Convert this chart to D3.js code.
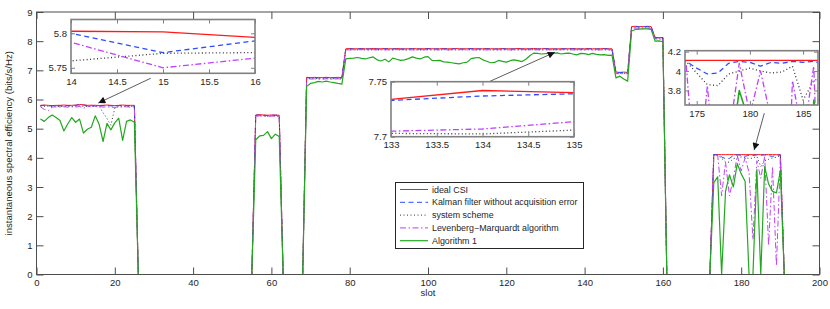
<!DOCTYPE html>
<html>
<head>
<meta charset="utf-8">
<script src="https://cdn.jsdelivr.net/npm/d3@7"></script>
<style>
body { margin: 0; background: #fff; }
svg text { font-family: "Liberation Sans", Arial, sans-serif; fill: #262626; }
</style>
</head>
<body>
<svg id="chart" width="830" height="309"></svg>
<script>
// slot index 1..200
const slots = d3.range(1, 201);

const idealCSI = [
  5.80,5.81,5.80,5.79,5.80,5.80,5.81,5.80,5.80,5.81,5.83,5.82,5.80,5.803,5.802,5.794,5.80,5.81,5.80,5.79,5.80,5.81,5.80,5.80,5.80,
  0,0,0,0,0,0,0,0,0,0, 0,0,0,0,0,0,0,0,0,0, 0,0,0,0,0,0,0,0,0,0,
  5.47,5.48,5.47,5.46,5.47,5.47,5.46,
  0,0,0,0,0,0,
  6.76,6.75,6.76,6.75,6.75,6.76,6.75,6.75,6.76,6.75,
  7.74,7.75,7.74,7.74,7.75,7.74,7.74,7.75,7.74,7.74,
  7.75,7.74,7.74,7.75,7.74,7.74,7.74,7.75,7.74,7.74,
  7.74,7.75,7.74,7.74,7.74,7.75,7.74,7.74,7.75,7.74,
  7.74,7.74,7.75,7.74,7.74,7.74,7.75,7.74,7.74,7.74,
  7.75,7.74,7.74,7.74,7.75,7.74,7.74,7.74,7.75,7.74,
  7.74,7.75,7.74,7.74,7.734,7.742,7.740,
  7.74,7.75,7.74,7.74,7.74,7.75,7.74,7.74,7.74,7.75,7.74,7.74,
  6.94,6.93,6.94,6.93,
  8.50,8.51,8.50,8.50,8.51,8.50,
  8.13,8.12,8.13,
  0,0,0,0,0,0,0,0,0,0,0,0,
  4.11,4.11,4.11,4.11,4.11,4.11,4.11,4.11,4.11,4.11,4.11,4.11,4.11,4.11,4.11,4.11,4.11,4.11,
  0,0,0,0,0,0,0,0,0,0
];

const kalman = [
  5.79,5.80,5.78,5.79,5.79,5.78,5.80,5.79,5.79,5.80,5.82,5.81,5.79,5.800,5.772,5.789,5.79,5.80,5.78,5.78,5.79,5.80,5.79,5.79,5.79,
  0,0,0,0,0,0,0,0,0,0, 0,0,0,0,0,0,0,0,0,0, 0,0,0,0,0,0,0,0,0,0,
  5.46,5.47,5.46,5.45,5.46,5.46,5.45,
  0,0,0,0,0,0,
  6.75,6.74,6.75,6.74,6.74,6.75,6.74,6.74,6.75,6.74,
  7.73,7.74,7.73,7.73,7.74,7.73,7.73,7.74,7.73,7.73,
  7.74,7.73,7.73,7.74,7.73,7.73,7.73,7.74,7.73,7.73,
  7.73,7.74,7.73,7.73,7.73,7.74,7.73,7.73,7.74,7.73,
  7.73,7.73,7.74,7.73,7.73,7.73,7.74,7.73,7.73,7.73,
  7.74,7.73,7.73,7.73,7.74,7.73,7.73,7.73,7.74,7.73,
  7.73,7.74,7.73,7.73,7.733,7.737,7.739,
  7.73,7.74,7.73,7.73,7.73,7.74,7.73,7.73,7.73,7.74,7.73,7.73,
  6.93,6.92,6.93,6.92,
  8.49,8.50,8.49,8.49,8.50,8.49,
  8.12,8.11,8.12,
  0,0,0,0,0,0,0,0,0,0,0,0,
  4.11,4.10,4.03,3.97,3.98,4.08,4.10,4.09,4.05,4.09,4.08,4.10,4.09,4.10,4.07,4.05,4.08,4.10,
  0,0,0,0,0,0,0,0,0,0
];

const systemScheme = [
  5.77,5.76,5.77,5.76,5.77,5.76,5.76,5.77,5.76,5.77,5.78,5.77,5.76,5.760,5.771,5.772,5.55,5.35,5.12,5.70,5.76,5.77,5.76,5.76,5.77,
  0,0,0,0,0,0,0,0,0,0, 0,0,0,0,0,0,0,0,0,0, 0,0,0,0,0,0,0,0,0,0,
  5.44,5.45,5.44,5.43,5.44,5.44,5.43,
  0,0,0,0,0,0,
  6.72,6.71,6.72,6.71,6.71,6.72,6.71,6.71,6.72,6.71,
  7.70,7.71,7.70,7.70,7.71,7.70,7.70,7.71,7.70,7.70,
  7.71,7.70,7.70,7.71,7.70,7.70,7.70,7.71,7.70,7.70,
  7.70,7.71,7.70,7.70,7.70,7.71,7.70,7.70,7.71,7.70,
  7.70,7.70,7.71,7.70,7.70,7.70,7.71,7.70,7.70,7.70,
  7.71,7.70,7.70,7.70,7.71,7.70,7.70,7.70,7.71,7.70,
  7.70,7.71,7.70,7.70,7.703,7.7025,7.706,
  7.70,7.71,7.70,7.70,7.70,7.71,7.70,7.70,7.70,7.71,7.70,7.70,
  6.90,6.89,6.90,6.89,
  8.45,8.46,8.45,8.45,8.46,8.45,
  8.09,8.08,8.09,
  0,0,0,0,0,0,0,0,0,0,0,0,
  4.11,4.10,3.98,3.86,3.85,3.97,4.00,4.03,4.00,3.98,3.99,4.05,3.70,3.90,3.95,4.00,4.02,4.08,
  0,0,0,0,0,0,0,0,0,0
];

const levenberg = [
  5.75,5.66,5.62,5.74,5.75,5.74,5.75,5.74,5.75,5.74,5.76,5.70,5.75,5.787,5.750,5.764,5.74,5.75,5.74,5.73,5.75,5.74,5.75,5.74,5.75,
  0,0,0,0,0,0,0,0,0,0, 0,0,0,0,0,0,0,0,0,0, 0,0,0,0,0,0,0,0,0,0,
  5.43,5.44,5.43,5.42,5.43,5.43,5.42,
  0,0,0,0,0,0,
  6.71,6.70,6.71,6.70,6.70,6.71,6.70,6.70,6.71,6.70,
  7.71,7.70,7.71,7.70,7.71,7.71,7.70,7.71,7.70,7.71,
  7.70,7.71,7.70,7.71,7.71,7.70,7.71,7.70,7.71,7.70,
  7.71,7.70,7.71,7.71,7.70,7.71,7.70,7.71,7.70,7.71,
  7.71,7.70,7.71,7.70,7.71,7.71,7.70,7.71,7.70,7.71,
  7.70,7.71,7.70,7.71,7.70,7.71,7.71,7.70,7.71,7.70,
  7.71,7.70,7.71,7.70,7.705,7.707,7.7136,
  7.71,7.70,7.71,7.70,7.71,7.71,7.70,7.71,7.70,7.71,7.70,7.71,
  6.89,6.88,6.89,6.88,
  8.44,8.45,8.44,8.44,8.45,8.44,
  8.08,8.07,8.08,
  0,0,0,0,0,0,0,0,0,0,0,0,
  4.10,4.08,2.70,3.85,2.70,3.30,4.08,3.55,4.00,3.50,1.20,3.90,3.30,4.05,1.00,3.70,0.30,4.00,
  0,0,0,0,0,0,0,0,0,0
];

const algorithm1 = [
  5.33,5.25,5.38,5.47,5.38,5.28,4.92,5.17,5.38,5.22,5.33,4.85,4.98,5.05,5.44,5.15,4.56,5.18,4.96,5.20,5.36,4.60,5.25,5.30,5.22,
  0,0,0,0,0,0,0,0,0,0, 0,0,0,0,0,0,0,0,0,0, 0,0,0,0,0,0,0,0,0,0,
  4.62,4.75,4.77,4.90,4.66,4.81,4.73,
  0,0,0,0,0,0,
  6.45,6.55,6.58,6.62,6.60,6.63,6.60,6.58,6.55,6.53,
  7.39,7.41,7.42,7.44,7.41,7.39,7.43,7.46,7.36,7.32,
  7.38,7.29,7.42,7.38,7.34,7.36,7.40,7.46,7.42,7.39,
  7.45,7.47,7.34,7.33,7.34,7.29,7.28,7.26,7.24,7.22,
  7.26,7.28,7.40,7.43,7.44,7.36,7.31,7.26,7.27,7.34,
  7.31,7.28,7.33,7.36,7.33,7.30,7.38,7.50,7.59,7.58,
  7.56,7.57,7.59,7.58,7.60,7.56,7.58,7.59,7.56,7.53,
  7.58,7.57,7.54,7.58,7.55,7.53,7.54,7.51,7.52,
  6.74,6.80,6.70,6.63,
  8.35,8.40,8.41,8.42,8.42,8.40,
  8.00,8.01,7.98,
  0,0,0,0,0,0,0,0,0,0,0,0,
  3.15,3.35,0.00,2.85,3.42,3.00,3.80,3.45,3.20,0.00,0.00,3.60,0.00,3.70,3.10,2.85,2.80,3.55,
  0,0,0,0,0,0,0,0,0,0
];

const xTicks = d3.range(0, 201, 20);
const yTicks = d3.range(0, 10, 1);

const series = [
  { name: 'ideal CSI', values: idealCSI, color: '#ff1a1a', dash: null, width: 1 },
  { name: 'Kalman filter without acquisition error', values: kalman, color: '#2a4dff', dash: '5,3.5', width: 1 },
  { name: 'system scheme', values: systemScheme, color: '#333333', dash: '1,2.5', width: 1 },
  { name: 'Levenberg\u2212Marquardt algorithm', values: levenberg, color: '#bf40ff', dash: '6,2.5,1.5,2.5', width: 1 },
  { name: 'Algorithm 1', values: algorithm1, color: '#22a81e', dash: null, width: 1.2 }
];

const svg = d3.select('#chart');

const x = d3.scaleLinear().domain([0, 200]).range([36.5, 819.5]);
const y = d3.scaleLinear().domain([0, 9]).range([274.5, 12]);

let clipId = 0;
function plotPanel(g, xs, ys, xticks, yticks, tick, lw, boxColor, boxWidth, fontSize) {
  const [x0, x1] = xs.range();
  const [y1, y0] = ys.range();
  const id = 'clip' + (clipId++);
  g.append('clipPath').attr('id', id)
    .append('rect').attr('x', x0).attr('y', y0).attr('width', x1 - x0).attr('height', y1 - y0);

  g.append('rect')
    .attr('x', x0).attr('y', y0).attr('width', x1 - x0).attr('height', y1 - y0)
    .attr('fill', '#fff');

  const lines = g.append('g').attr('clip-path', `url(#${id})`);
  series.forEach(s => {
    const line = d3.line().x((d, i) => xs(slots[i])).y(d => ys(d));
    lines.append('path')
      .datum(s.values)
      .attr('d', line)
      .attr('fill', 'none')
      .attr('stroke', s.color)
      .attr('stroke-width', s.width * lw)
      .attr('stroke-dasharray', s.dash)
      .attr('stroke-linejoin', 'round');
  });

  const fmt = d => String(d);
  const bottom = g.append('g').attr('transform', `translate(0,${y1})`)
    .call(d3.axisBottom(xs).tickValues(xticks).tickSizeInner(-tick).tickSizeOuter(0).tickPadding(5).tickFormat(fmt));
  const top = g.append('g').attr('transform', `translate(0,${y0})`)
    .call(d3.axisTop(xs).tickValues(xticks).tickSizeInner(-tick).tickSizeOuter(0).tickFormat(''));
  const left = g.append('g').attr('transform', `translate(${x0},0)`)
    .call(d3.axisLeft(ys).tickValues(yticks).tickSizeInner(-tick).tickSizeOuter(0).tickPadding(4).tickFormat(fmt));
  const right = g.append('g').attr('transform', `translate(${x1},0)`)
    .call(d3.axisRight(ys).tickValues(yticks).tickSizeInner(-tick).tickSizeOuter(0).tickFormat(''));

  [bottom, top, left, right].forEach(a => {
    a.select('.domain').remove();
    a.selectAll('line').attr('stroke', boxColor).attr('stroke-width', 1);
    a.selectAll('text').style('font-size', fontSize + 'px').attr('fill', '#262626');
  });

  g.append('rect')
    .attr('x', x0).attr('y', y0).attr('width', x1 - x0).attr('height', y1 - y0)
    .attr('fill', 'none').attr('stroke', boxColor).attr('stroke-width', boxWidth);
}

// main axes
const main = svg.append('g');
plotPanel(main, x, y, xTicks, yTicks, 7, 1, '#4d4d4d', 1, 9.5);

main.append('text')
  .attr('x', x(100)).attr('y', 296)
  .attr('text-anchor', 'middle')
  .style('font-size', '9.5px')
  .text('slot');

main.append('text')
  .attr('transform', `translate(12,${(y(0) + y(9)) / 2}) rotate(-90)`)
  .attr('text-anchor', 'middle')
  .style('font-size', '9.6px')
  .text('instantaneous spectral efficiency (bits/s/Hz)');

// legend
const legend = svg.append('g');
legend.append('rect')
  .attr('x', 395.5).attr('y', 182.5).attr('width', 188).attr('height', 66)
  .attr('fill', '#fff').attr('stroke', '#262626').attr('stroke-width', 1);
series.forEach((s, i) => {
  const ly = 189.5 + i * 12.8;
  legend.append('line')
    .attr('x1', 400).attr('x2', 428).attr('y1', ly).attr('y2', ly)
    .attr('stroke', s.color).attr('stroke-width', s.width)
    .attr('stroke-dasharray', s.dash);
  legend.append('text')
    .attr('x', 432).attr('y', ly).attr('dy', '0.35em')
    .style('font-size', '8.9px')
    .text(s.name);
});

// arrows (data coordinates of the main axes)
const arrows = [
  { from: [29.2, 6.73], to: [15.8, 5.88] },
  { from: [115.6, 6.61], to: [132.4, 7.62] },
  { from: [185.9, 5.53], to: [183.3, 4.27] }
];
svg.append('defs').append('marker')
  .attr('id', 'head').attr('viewBox', '0 0 10 10')
  .attr('refX', 10).attr('refY', 5)
  .attr('markerWidth', 9).attr('markerHeight', 7)
  .attr('markerUnits', 'userSpaceOnUse')
  .attr('orient', 'auto')
  .append('path').attr('d', 'M0,0L10,5L0,10Z').attr('fill', '#111');

// insets
const insets = [
  { xd: [14, 16], yd: [5.742, 5.82], rx: [71, 255], ry: [73.3, 19.5], xt: [14, 14.5, 15, 15.5, 16], yt: [5.75, 5.8] },
  { xd: [133, 135], yd: [7.7, 7.75], rx: [391, 574], ry: [136.7, 81.7], xt: [133, 133.5, 134, 134.5, 135], yt: [7.7, 7.75] },
  { xd: [173.9, 186.4], yd: [3.65, 4.21], rx: [685, 818], ry: [105, 50.7], xt: [175, 180, 185], yt: [3.8, 4, 4.2] }
];

arrows.forEach(a => {
  svg.append('line')
    .attr('x1', x(a.from[0])).attr('y1', y(a.from[1]))
    .attr('x2', x(a.to[0])).attr('y2', y(a.to[1]))
    .attr('stroke', '#333').attr('stroke-width', 0.8)
    .attr('marker-end', 'url(#head)');
});

insets.forEach(ins => {
  const xs = d3.scaleLinear().domain(ins.xd).range(ins.rx);
  const ys = d3.scaleLinear().domain(ins.yd).range(ins.ry);
  plotPanel(svg.append('g'), xs, ys, ins.xt, ins.yt, 4, 1.3, '#808080', 1.6, 9.5);
});
</script>
</body>
</html>
